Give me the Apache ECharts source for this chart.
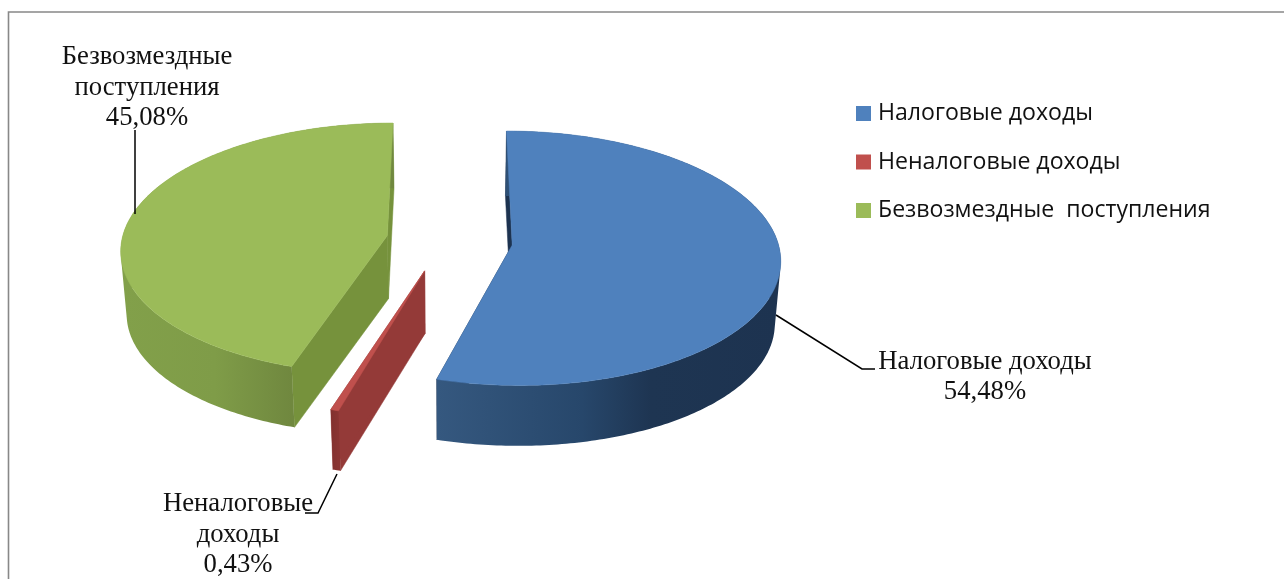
<!DOCTYPE html>
<html>
<head>
<meta charset="utf-8">
<style>html,body{margin:0;padding:0;background:#fff}#c{width:1284px;height:579px}</style>
<script src="https://cdn.jsdelivr.net/npm/echarts@6/dist/echarts.min.js"></script>
</head>
<body>
<div id="c"></div>
<script>
// Data
var categories = ['Налоговые доходы', 'Неналоговые доходы', 'Безвозмездные  поступления'];
var values = [54.48, 0.43, 45.08];
var labelLines = [['Налоговые доходы'], ['Неналоговые', 'доходы'], ['Безвозмездные', 'поступления']];

// Colours per slice
var topColors = ['#4f81bd', '#c0504d', '#9bbb59'];
var cutColors = ['#1d3350', '#943a38', '#76923c'];
var wallStops = [
  [[0, '#35587f'], [0.42, '#27476b'], [0.62, '#1e3552'], [1, '#1d3350']],
  [[0, '#7f302e'], [1, '#8a3432']],
  [[0, '#82a04a'], [0.55, '#7f9c48'], [1, '#70883f']]
];
var wallRange = [[438, 781], [329, 338], [122, 291]];

// Label placement and leader lines
var labelPos = [[985, 361.5], [238, 504], [147, 57]];
var leaders = [
  [[776, 315], [862, 369], [875, 369]],
  [[337, 474], [318, 513], [305, 513]],
  [[135, 130], [135, 214]]
];
var sliceNudge = [[1, 0], [-7, 1.5], [-2, -1]];

// Projection of the tilted pie
var Cx = 450, Cy = 241, rx = 265.5, ry = 125, persp = 0.103, explode = 0.232;
var depth = 63, depthScale = 0.982;

var total = values.reduce(function (a, b) { return a + b; }, 0);
var starts = [];
values.reduce(function (acc, v, i) { starts[i] = acc; return acc + v; }, 0);
function toRad(v) { return v / total * Math.PI * 2; }

function project(X, V, i) {
  var d = 1 + persp * V;
  return [Cx + rx * X / d + sliceNudge[i][0], Cy - ry * V / d + sliceNudge[i][1]];
}
function lower(p) {
  return [Cx + (p[0] - Cx) * depthScale, Cy + (p[1] - Cy) * depthScale + depth];
}
// One path made of equally wound quads, so the wall has no seams
function quadPath(upper, low) {
  var d = '';
  for (var q = 0; q < upper.length - 1; q++) {
    var pts = [upper[q], upper[q + 1], low[q + 1], low[q]], area = 0;
    for (var m = 0; m < 4; m++) {
      var a = pts[m], b = pts[(m + 1) % 4];
      area += a[0] * b[1] - b[0] * a[1];
    }
    if (area < 0) pts.reverse();
    d += 'M' + pts.map(function (p) { return p[0].toFixed(2) + ' ' + p[1].toFixed(2); }).join('L') + 'Z';
  }
  return d;
}

function renderSlice(i) {
  return function () {
    var a0 = toRad(starts[i]), a1 = toRad(starts[i] + values[i]), mid = (a0 + a1) / 2;
    var ox = explode * Math.sin(mid), oy = explode * Math.cos(mid);
    var rim = [], n = Math.max(2, Math.ceil((a1 - a0) / 0.015));
    for (var k = 0; k <= n; k++) {
      var t = a0 + (a1 - a0) * k / n;
      rim.push(project(ox + Math.sin(t), oy + Math.cos(t), i));
    }
    var apex = project(ox, oy, i);
    var apexLow = lower(apex);
    var rimLow = rim.map(lower);
    var first = rim[0], last = rim[rim.length - 1];
    var r = wallRange[i];
    var wallFill = new echarts.graphic.LinearGradient(r[0], 0, r[1], 0,
      wallStops[i].map(function (s) { return { offset: s[0], color: s[1] }; }), true);
    function poly(points, fill) {
      return { type: 'polygon', shape: { points: points }, style: { fill: fill, stroke: fill, lineWidth: 0.5 } };
    }
    var children = [
      poly([first, rimLow[0], apexLow, apex], cutColors[i]),
      poly([last, rimLow[rimLow.length - 1], apexLow, apex], cutColors[i]),
      { type: 'path', shape: { pathData: quadPath(rim, rimLow) }, style: { fill: wallFill } },
      poly([apex].concat(rim), topColors[i])
    ];
    children.push({
      type: 'polyline', z2: 5,
      shape: { points: leaders[i] },
      style: { fill: null, stroke: '#000', lineWidth: 1.5 }
    });
    var text = labelLines[i].concat([values[i].toFixed(2).replace('.', ',') + '%']);
    text.forEach(function (line, j) {
      children.push({
        type: 'text', z2: 6,
        style: {
          text: line, x: labelPos[i][0], y: labelPos[i][1] + j * 30.5,
          align: 'center', verticalAlign: 'middle',
          font: '26.7px "Liberation Serif"', fill: '#111'
        }
      });
    });
    return { type: 'group', children: children };
  };
}

var chart = echarts.init(document.getElementById('c'), null, { renderer: 'canvas' });
chart.setOption({
  animation: false,
  backgroundColor: '#fff',
  tooltip: { show: false },
  graphic: [
    {
      type: 'polyline', silent: true,
      shape: { points: [[8.5, 579], [8.5, 12], [1284, 12]] },
      style: { fill: null, stroke: '#888', lineWidth: 1.6 }
    }
  ],
  legend: {
    orient: 'vertical', left: 851, top: 97,
    icon: 'rect', itemWidth: 15, itemHeight: 15, itemGap: 25.5,
    selectedMode: false,
    data: categories,
    textStyle: { fontFamily: '"Open Sans"', fontSize: 23.1, color: '#111', padding: [0, 0, 0, 2] }
  },
  series: categories.map(function (name, i) {
    return {
      type: 'custom', name: name, coordinateSystem: 'none',
      itemStyle: { color: topColors[i] },
      renderItem: renderSlice(i),
      data: [[values[i]]]
    };
  })
});
</script>
</body>
</html>
